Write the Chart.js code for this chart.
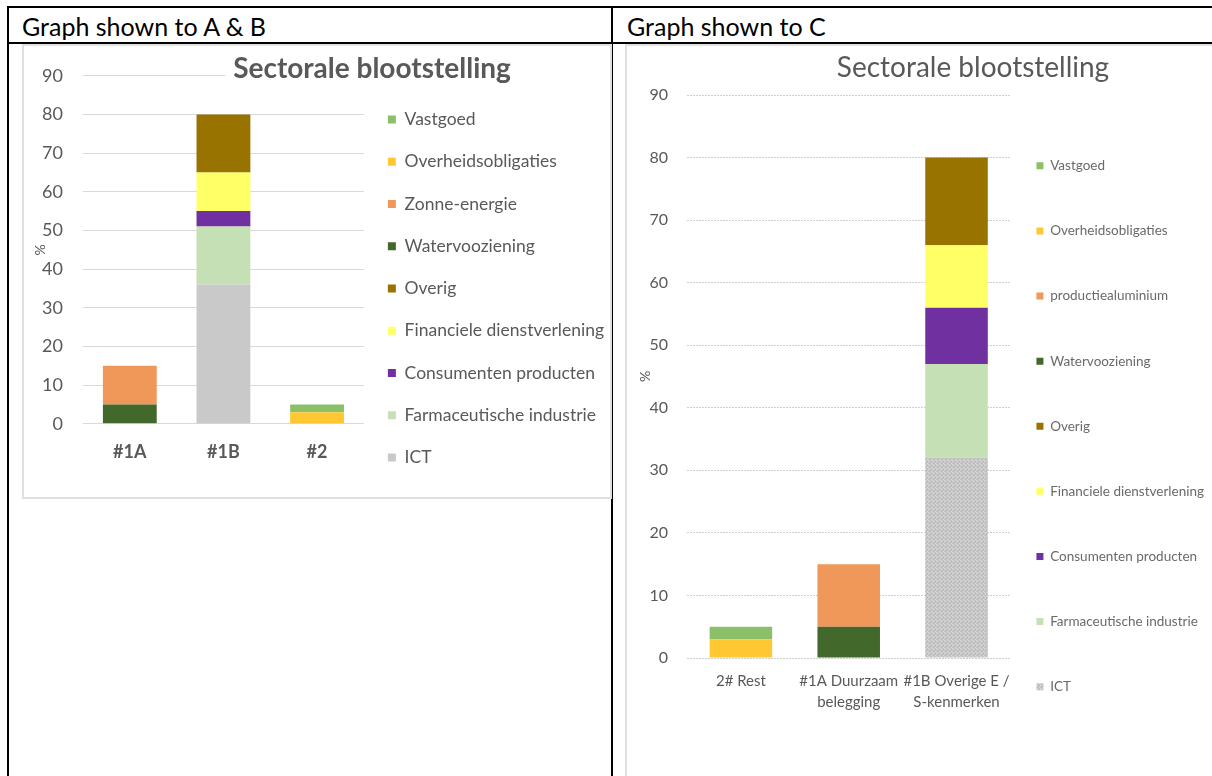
<!DOCTYPE html>
<html><head><meta charset="utf-8">
<script src="https://cdn.jsdelivr.net/npm/chart.js@4.4.1/dist/chart.umd.min.js"></script>
<style>
html,body{margin:0;padding:0;background:#fff;width:1212px;height:776px;overflow:hidden;position:relative;font-family:Lato,'Open Sans',sans-serif;}
.line{position:absolute;background:#000;}
.box{position:absolute;border:2px solid #e0e0e0;box-sizing:border-box;}
.hdr{position:absolute;font-size:25px;line-height:26px;color:#000;white-space:nowrap;}
canvas{position:absolute;}
</style></head><body>
<div class="line" style="left:7px;top:6px;width:1205px;height:2px"></div>
<div class="line" style="left:7px;top:42px;width:1205px;height:2px"></div>
<div class="line" style="left:7px;top:6px;width:2px;height:770px"></div>
<div class="line" style="left:611px;top:6px;width:2px;height:770px"></div>
<div class="hdr" style="left:22px;top:13px">Graph shown to A &amp; B</div>
<div class="hdr" style="left:627px;top:13px">Graph shown to C</div>
<div class="box" style="left:22px;top:44px;width:590px;height:455px"></div>
<div class="box" style="left:625px;top:44px;width:620px;height:760px"></div>
<canvas id="cAB" width="694" height="446" style="left:24px;top:45px;width:694px;height:446px"></canvas>
<canvas id="cC" width="682" height="700" style="left:627px;top:45px;width:682px;height:700px"></canvas>
<script>
// ---------- data ----------
const categoriesAB = ['#1A', '#1B', '#2'];
const categoriesC = ['2# Rest', ['#1A Duurzaam', 'belegging'], ['#1B Overige E /', 'S-kenmerken']];

// series listed bottom-to-top of the stack
const sectorsAB = ['ICT', 'Farmaceutische industrie', 'Consumenten producten', 'Financiele dienstverlening', 'Overig', 'Watervooziening', 'Zonne-energie', 'Overheidsobligaties', 'Vastgoed'];
const sectorsC  = ['ICT', 'Farmaceutische industrie', 'Consumenten producten', 'Financiele dienstverlening', 'Overig', 'Watervooziening', 'productiealuminium', 'Overheidsobligaties', 'Vastgoed'];

// Graph A & B  (#1A, #1B, #2)
const ictAB        = [0, 36, 0];
const farmaAB      = [0, 15, 0];
const consumAB     = [0, 4, 0];
const financAB     = [0, 10, 0];
const overigAB     = [0, 15, 0];
const waterAB      = [5, 0, 0];
const zonneAB      = [10, 0, 0];
const overheidAB   = [0, 0, 3];
const vastgoedAB   = [0, 0, 2];

// Graph C  (2# Rest, #1A, #1B)
const ictC         = [0, 0, 32];
const farmaC       = [0, 0, 15];
const consumC      = [0, 0, 9];
const financC      = [0, 0, 10];
const overigC      = [0, 0, 14];
const waterC       = [0, 5, 0];
const aluminiumC   = [0, 10, 0];
const overheidC    = [3, 0, 0];
const vastgoedC    = [2, 0, 0];

const yMin = 0, yMax = 90, yStep = 10;
const chartTitle = 'Sectorale blootstelling';
const yTitle = '%';

// ---------- styles ----------
const sectorColors = ['#c9c9c9', '#c5e0b4', '#7030a0', '#ffff66', '#997300', '#43682b', '#f0975a', '#ffc832', '#8cc068'];
const textGrey = '#595959';

Chart.defaults.font.family = 'Lato';

function ictPattern(canvas){
  const c = document.createElement('canvas'); c.width = 4; c.height = 4;
  const g = c.getContext('2d');
  g.fillStyle = '#c8c8c8'; g.fillRect(0,0,4,4);
  g.fillStyle = '#b4b4b4'; g.fillRect(0,0,1,1); g.fillRect(2,2,1,1); g.fillRect(3,1,1,1);
  g.fillStyle = '#d6d6d6'; g.fillRect(2,0,1,1); g.fillRect(0,2,1,1); g.fillRect(1,3,1,1);
  return canvas.getContext('2d').createPattern(c, 'repeat');
}

const arrayLabels = c => Chart.defaults.plugins.legend.labels.generateLabels(c).map(l => Object.assign(l, {text: [l.text]}));

// legend width (as Chart.js sizes a one-column legend) and the spacer that sits right of it
function legendBox(canvas, plotRight, names, fontSize, boxW, pad){
  const ctx = canvas.getContext('2d');
  ctx.save(); ctx.font = fontSize + 'px Lato';
  const maxW = Math.max(...names.map(n => ctx.measureText(n).width));
  ctx.restore();
  const legendW = Math.ceil(boxW + fontSize / 2 + maxW + pad + 10);
  return {legendW, spacerW: Math.max(0, canvas.width - plotRight - legendW)};
}

const titleBg = {
  id: 'titleBg',
  beforeDatasetsDraw(chart){
    const t = chart.titleBlock; if (!t) return;
    const ctx = chart.ctx; ctx.save();
    ctx.font = 'bold 28px Lato';
    const w = ctx.measureText(chartTitle).width;
    const cx = (t.left + t.right) / 2;
    ctx.fillStyle = '#fff';
    ctx.fillRect(cx - w/2 - 8, t.top, w + 16, chart.chartArea.top - t.top + 2);
    ctx.restore();
    t.draw();
  }
};

// ---------- chart A & B ----------
const cAB = document.getElementById('cAB');
const lgAB = legendBox(cAB, 339, sectorsAB, 17.5, 8, 24);
const seriesAB = [ictAB, farmaAB, consumAB, financAB, overigAB, waterAB, zonneAB, overheidAB, vastgoedAB];
new Chart(cAB, {
  type: 'bar',
  data: {
    labels: categoriesAB,
    datasets: sectorsAB.map((name, i) => ({
      label: name, data: seriesAB[i], backgroundColor: sectorColors[i],
      borderWidth: 0, barPercentage: 0.575, categoryPercentage: 1
    }))
  },
  options: {
    responsive: false, animation: false,
    layout: {padding: {left: 2, right: 0, top: 0, bottom: 0}},
    plugins: {
      tooltip: {enabled: false},
      title: {display: true, text: chartTitle, color: textGrey,
        font: {size: 28, weight: 'bold', lineHeight: 14/28}, padding: {top: 16, bottom: 0}},
      legend: {position: 'right', align: 'end', reverse: true, maxWidth: lgAB.legendW,
        labels: {boxWidth: 8, boxHeight: 8, padding: 24, color: textGrey,
          font: {size: 17.5, lineHeight: 18.25/17.5}, generateLabels: arrayLabels}}
    },
    scales: {
      x: {stacked: true, grid: {display: false}, border: {display: false},
        ticks: {color: textGrey, font: {size: 18, weight: 'bold', lineHeight: 1.2}, padding: 10},
        afterFit: s => { s.height = 67.25; }},
      y: {stacked: true, min: yMin, max: yMax,
        ticks: {stepSize: yStep, color: textGrey, font: {size: 18}, padding: 20},
        grid: {color: '#d9d9d9', drawTicks: false}, border: {display: false},
        title: {display: true, text: yTitle, color: textGrey, font: {size: 14, lineHeight: 1}, padding: {top: 7, bottom: 0}},
        afterFit: s => { s.width = 57; }},
      spacer: {position: 'right', weight: 2000, display: true, grid: {display: false},
        ticks: {display: false}, border: {display: false}, afterFit: s => { s.width = lgAB.spacerW; }}
    }
  },
  plugins: [titleBg]
});

// ---------- chart C ----------
const cC = document.getElementById('cC');
const lgC = legendBox(cC, 383, sectorsC, 13.5, 7, 26);
const seriesC = [ictC, farmaC, consumC, financC, overigC, waterC, aluminiumC, overheidC, vastgoedC];
const colorsC = sectorColors.slice(); colorsC[0] = ictPattern(cC);
new Chart(cC, {
  type: 'bar',
  data: {
    labels: categoriesC,
    datasets: sectorsC.map((name, i) => ({
      label: name, data: seriesC[i], backgroundColor: colorsC[i],
      borderWidth: 0, barPercentage: 0.58, categoryPercentage: 1
    }))
  },
  options: {
    responsive: false, animation: false,
    layout: {padding: {left: 10, right: 0, top: 0, bottom: 0}},
    plugins: {
      tooltip: {enabled: false},
      title: {display: true, text: chartTitle, color: textGrey,
        font: {size: 28, weight: 'normal', lineHeight: 14/28}, padding: {top: 16, bottom: 20}},
      legend: {position: 'right', align: 'end', reverse: true, maxWidth: lgC.legendW,
        labels: {boxWidth: 7, boxHeight: 7, padding: 26, color: '#6a6a6a',
          font: {size: 13.5, lineHeight: 39.1/13.5}, generateLabels: arrayLabels}}
    },
    scales: {
      x: {stacked: true, grid: {display: false}, border: {display: false},
        ticks: {color: textGrey, font: {size: 15, lineHeight: 21/15}, padding: 5,
          maxRotation: 0, minRotation: 0, autoSkip: false},
        afterFit: s => { s.height = 87; }},
      y: {stacked: true, min: yMin, max: yMax,
        ticks: {stepSize: yStep, color: textGrey, font: {size: 16}, padding: 19},
        grid: {color: '#cfcfcf', drawTicks: false}, border: {display: false, dash: [2, 1]},
        title: {display: true, text: yTitle, color: textGrey, font: {size: 14, lineHeight: 1}, padding: {top: 1, bottom: 0}},
        afterFit: s => { s.width = 50; }},
      spacer: {position: 'right', weight: 2000, display: true, grid: {display: false},
        ticks: {display: false}, border: {display: false}, afterFit: s => { s.width = lgC.spacerW; }}
    }
  }
});
</script>
</body></html>
